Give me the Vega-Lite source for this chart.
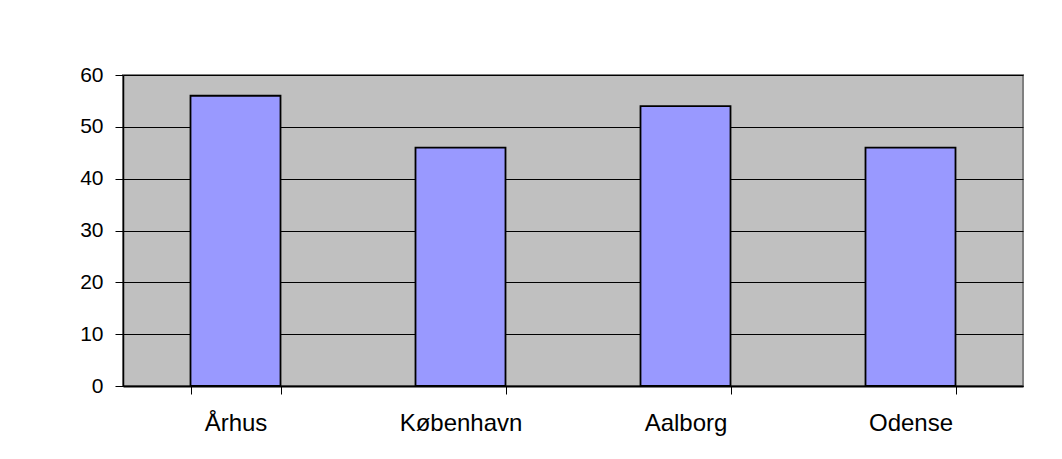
{
  "$schema": "https://vega.github.io/schema/vega-lite/v6.json",
  "autosize": "none",
  "width": 900,
  "height": 311,
  "padding": {"left": 123, "top": 75, "right": 39, "bottom": 73},
  "background": "white",
  "config": {
    "view": {"fill": "#C0C0C0", "stroke": "#808080", "strokeWidth": 2},
    "font": "Liberation Sans"
  },
  "data": {
    "values": [
      {"city": "Århus", "value": 56},
      {"city": "København", "value": 46},
      {"city": "Aalborg", "value": 54},
      {"city": "Odense", "value": 46}
    ]
  },
  "mark": {"type": "bar", "fill": "#9999FF", "stroke": "black", "strokeWidth": 1.8},
  "encoding": {
    "x": {
      "field": "city",
      "type": "nominal",
      "sort": null,
      "scale": {"paddingInner": 0.6, "paddingOuter": 0.3},
      "axis": {
        "title": null,
        "labelAngle": 0,
        "labelFontSize": 24,
        "labelColor": "black",
        "labelPadding": 17,
        "tickBand": "extent",
        "tickSize": 8,
        "tickColor": "black",
        "domainColor": "black",
        "domainWidth": 2,
        "grid": false
      }
    },
    "y": {
      "field": "value",
      "type": "quantitative",
      "scale": {"domain": [0, 60], "nice": false},
      "axis": {
        "title": null,
        "values": [0, 10, 20, 30, 40, 50, 60],
        "labelFontSize": 21,
        "labelColor": "black",
        "labelPadding": 12,
        "tickSize": 8,
        "tickColor": "black",
        "domainColor": "black",
        "domainWidth": 1.5,
        "grid": true,
        "gridColor": "black",
        "gridOpacity": 1,
        "gridWidth": 1
      }
    }
  }
}
